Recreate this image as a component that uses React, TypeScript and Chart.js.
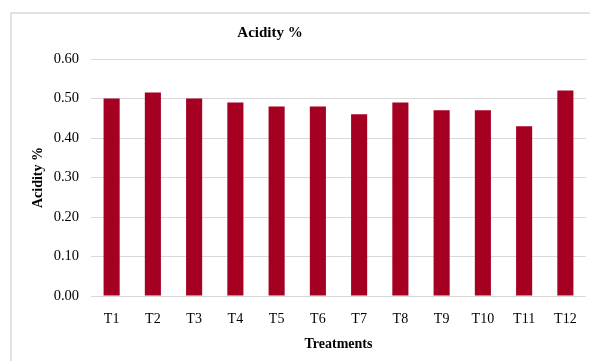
import React, { useEffect, useRef } from "react";
import { Chart, registerables } from "chart.js";

Chart.register(...registerables);

const categories = ["T1", "T2", "T3", "T4", "T5", "T6", "T7", "T8", "T9", "T10", "T11", "T12"];
const acidity = [0.50, 0.515, 0.50, 0.49, 0.48, 0.48, 0.46, 0.49, 0.47, 0.47, 0.43, 0.52];
const yTicks = [0, 0.1, 0.2, 0.3, 0.4, 0.5, 0.6];
const chartTitle = "Acidity %";
const xTitle = "Treatments";
const yTitle = "Acidity %";

const FONT = "'Liberation Serif', 'Times New Roman', serif";

const decorPlugin = {
  id: "decor",
  beforeDraw(chart: any) {
    const ctx = chart.ctx;
    ctx.save();
    ctx.fillStyle = "#ffffff";
    ctx.fillRect(0, 0, chart.width, chart.height);
    ctx.fillStyle = "#e2e2e2";
    ctx.fillRect(10, 12, 2, chart.height - 12);
    ctx.fillRect(10, 12, chart.width - 10, 2);
    ctx.restore();
  },
  afterDraw(chart: any) {
    const ctx = chart.ctx;
    ctx.save();
    ctx.fillStyle = "#000000";
    ctx.font = `bold 15px ${FONT}`;
    ctx.textAlign = "center";
    ctx.textBaseline = "middle";
    ctx.fillText(chartTitle, 270, 33);
    ctx.restore();
  },
};

export default function App() {
  const ref = useRef<HTMLCanvasElement | null>(null);
  useEffect(() => {
    document.body.style.margin = "0";
    const canvas = ref.current!;
    const chart = new Chart(canvas, {
      type: "bar",
      data: {
        labels: categories,
        datasets: [
          {
            data: acidity,
            backgroundColor: "#A50021",
            borderWidth: 0,
            categoryPercentage: 1,
            barPercentage: 0.39,
          },
        ],
      },
      options: {
        responsive: false,
        animation: false,
        devicePixelRatio: 1,
        layout: { padding: { top: 59, right: 4, left: 0, bottom: 0 } },
        plugins: {
          legend: { display: false },
          title: { display: false },
          tooltip: { enabled: false },
        },
        scales: {
          x: {
            grid: { display: false },
            border: { display: false },
            ticks: {
              color: "#000",
              font: { family: FONT, size: 14 },
              padding: 7,
              maxRotation: 0,
            },
            title: {
              display: true,
              text: xTitle,
              color: "#000",
              font: { family: FONT, size: 14, weight: "bold" },
              padding: { top: 8, bottom: 8 },
            },
            afterFit(scale: any) {
              scale.height = 65;
            },
          },
          y: {
            min: 0,
            max: 0.6,
            afterBuildTicks(scale: any) {
              scale.ticks = yTicks.map((v) => ({ value: v }));
            },
            grid: { color: "#d9d9d9", lineWidth: 1, drawTicks: false },
            border: { display: false },
            ticks: {
              color: "#000",
              font: { family: FONT, size: 14.5 },
              padding: 12,
              callback: (v: any) => Number(v).toFixed(2),
            },
            title: {
              display: true,
              text: yTitle,
              color: "#000",
              font: { family: FONT, size: 14, weight: "bold" },
              padding: { top: 30, bottom: 0 },
            },
            afterFit(scale: any) {
              scale.width = 91;
            },
          },
        },
      },
      plugins: [decorPlugin],
    });
    return () => chart.destroy();
  }, []);
  return <canvas ref={ref} width={590} height={361} style={{ display: "block" }} />;
}
